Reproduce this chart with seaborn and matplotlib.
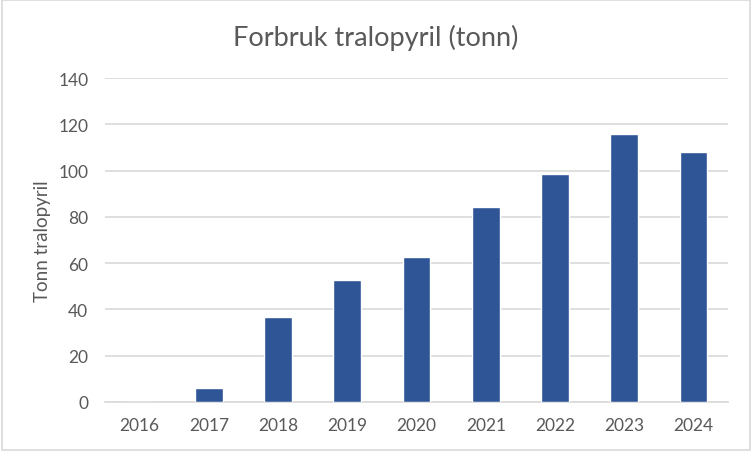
import pandas as pd
import matplotlib.pyplot as plt
import seaborn as sns
from matplotlib.patches import Rectangle

# data
years = ["2016", "2017", "2018", "2019", "2020", "2021", "2022", "2023", "2024"]
tonn = [0, 6, 36.6, 52.6, 62.5, 84.1, 98.4, 115.6, 107.9]

df = pd.DataFrame({"year": years, "tonn": tonn})

sns.set_style("white")
plt.rcParams["font.family"] = ["Lato", "DejaVu Sans"]

text_col = "#595959"
grid_col = "#D9D9D9"

fig = plt.figure(figsize=(7.52, 4.52), dpi=100)
ax = fig.add_axes([105 / 752, 49 / 452, 623 / 752, 324 / 452])

sns.barplot(data=df, x="year", y="tonn", color="#2F5597", width=0.4,
            saturation=1, ax=ax, zorder=3)

ax.set_ylim(0, 140)
ax.set_xlim(-0.5, 8.5)
ax.set_yticks(range(0, 141, 20))
ax.yaxis.grid(True, color=grid_col, linewidth=1.2, zorder=0)
ax.set_axisbelow(True)
for s in ["top", "right", "left"]:
    ax.spines[s].set_visible(False)
ax.spines["bottom"].set_color(grid_col)
ax.spines["bottom"].set_linewidth(1.2)
ax.tick_params(axis="both", length=0, labelsize=12.5, colors=text_col)
ax.tick_params(axis="x", pad=11)
ax.tick_params(axis="y", pad=12)

ax.set_xlabel("")
ax.set_ylabel("Tonn tralopyril", fontsize=13.5, color=text_col, labelpad=5)
fig.text(0.5, 1 - 38 / 452, "Forbruk tralopyril (tonn)", ha="center",
         va="center", fontsize=19.5, color=text_col)

# chart border
fig.patches.append(Rectangle((0.002, 0.003), 0.996, 0.994,
                             transform=fig.transFigure, fill=False,
                             edgecolor=grid_col, linewidth=1.2))

plt.savefig("out.png", dpi=100)
